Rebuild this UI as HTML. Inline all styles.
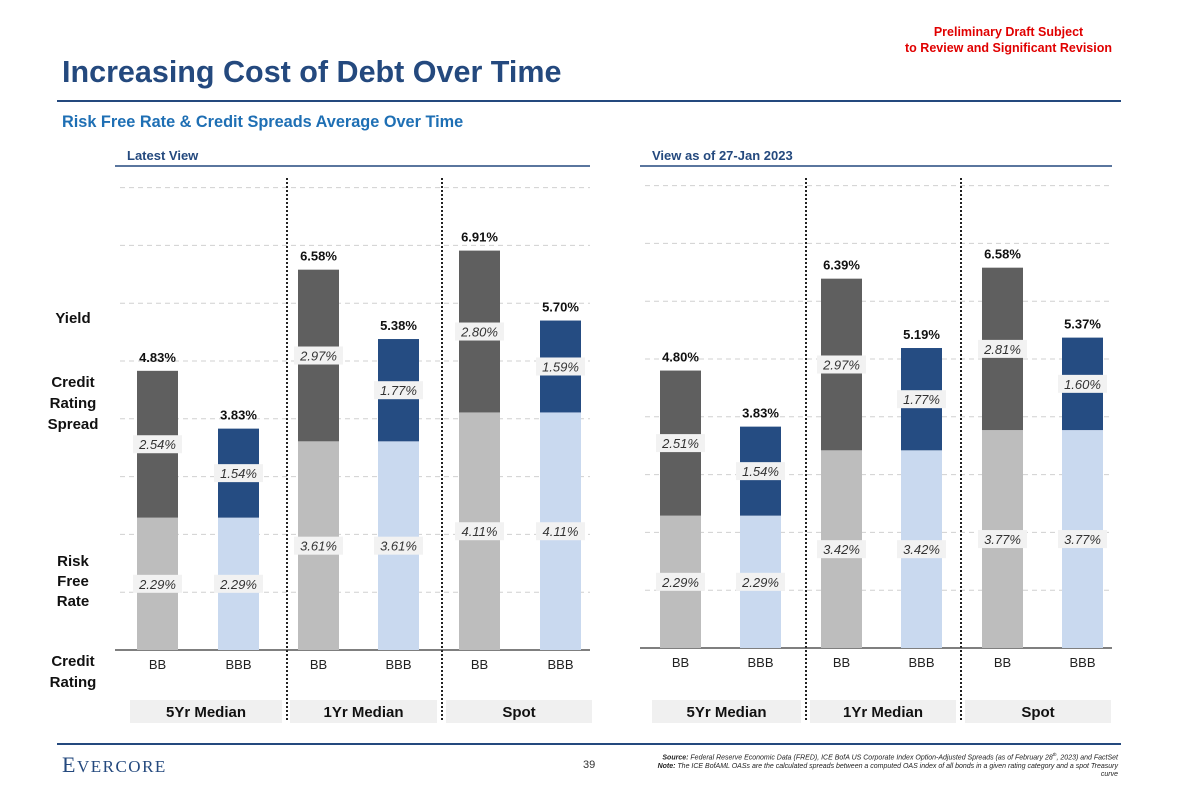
<!DOCTYPE html>
<html><head><meta charset="utf-8"><style>
body{margin:0;width:1180px;height:786px;background:#fff;font-family:"Liberation Sans",Arial,sans-serif;overflow:hidden;position:relative}
.a{position:absolute}
</style></head><body>
<div class="a" style="right:68px;top:24px;color:#e00000;font-weight:bold;font-size:12.5px;text-align:center;line-height:16px">Preliminary Draft Subject<br>to Review and Significant Revision</div>
<div class="a" style="left:62px;top:55px;color:#24497e;font-weight:bold;font-size:30.5px">Increasing Cost of Debt Over Time</div>
<div class="a" style="left:57px;top:100px;width:1064px;height:2px;background:#24497e"></div>
<div class="a" style="left:62px;top:113px;color:#1e6fb4;font-weight:bold;font-size:16.3px">Risk Free Rate &amp; Credit Spreads Average Over Time</div>
<svg class="a" style="left:0;top:0" width="1180" height="786" id="chart"></svg>
<div class="a" style="left:57px;top:743px;width:1064px;height:2px;background:#24497e"></div>
<div class="a" style="left:62px;top:752px;font-family:'Liberation Serif',serif;font-size:22px;color:#24497e;letter-spacing:1.5px">E<span style="font-size:17px">VERCORE</span></div>
<div class="a" style="left:583px;top:759px;font-size:11px;color:#333">39</div>
<div class="a" style="right:62px;top:751px;width:520px;text-align:right;font-size:7px;font-style:italic;color:#222;line-height:8.5px"><b>Source:</b> Federal Reserve Economic Data (FRED), ICE BofA US Corporate Index Option-Adjusted Spreads (as of February 28<sup style="font-size:4.5px">th</sup>, 2023) and FactSet<br><b>Note:</b> The ICE BofAML OASs are the calculated spreads between a computed OAS index of all bonds in a given rating category and a spot Treasury<br>curve</div>
<script>
const ratings=["BB","BBB","BB","BBB","BB","BBB"];
const groups=["5Yr Median","1Yr Median","Spot"];
const latestRfr=[2.29,2.29,3.61,3.61,4.11,4.11];
const latestSpread=[2.54,1.54,2.97,1.77,2.80,1.59];
const latestTotal=[4.83,3.83,6.58,5.38,6.91,5.70];
const janRfr=[2.29,2.29,3.42,3.42,3.77,3.77];
const janSpread=[2.51,1.54,2.97,1.77,2.81,1.60];
const janTotal=[4.80,3.83,6.39,5.19,6.58,5.37];
const gridTicks=[1,2,3,4,5,6,7,8];
const NS="http://www.w3.org/2000/svg";
const svg=document.getElementById('chart');
function mk(t,a,txt){const e=document.createElementNS(NS,t);for(const k in a)e.setAttribute(k,a[k]);if(txt!==undefined)e.textContent=txt;svg.appendChild(e);return e;}
function panel(p){
  const y=v=>p.base-v*57.8;
  const t=mk('text',{x:p.x0+12,y:160,'font-size':13,'font-weight':'bold',fill:'#24497e'},p.title);
  
  mk('line',{x1:p.x0,x2:p.x1,y1:166,y2:166,stroke:'#24497e','stroke-width':1.5});
  gridTicks.forEach(g=>{const l=mk('line',{x1:p.x0+5,x2:p.x1,y1:y(g),y2:y(g),stroke:'#d0d0d0','stroke-dasharray':'5,4'});
    });
  p.divs.forEach(dx=>mk('line',{x1:dx,x2:dx,y1:178,y2:720,stroke:'#222','stroke-width':2,'stroke-dasharray':'2,2'}));
  mk('line',{x1:p.x0,x2:p.x1,y1:p.base,y2:p.base,stroke:'#333','stroke-width':1.2});
  ratings.forEach((r,i)=>{
    const x=p.bx[i],w=41,bb=i%2==0;
    const rf=p.rfr[i],sp=p.spread[i],tot=p.total[i];
    const b1=mk('rect',{x:x,y:y(rf),width:w,height:y(0)-y(rf),fill:bb?'#bdbdbd':'#c9d9ef'});
    
    const b2=mk('rect',{x:x,y:y(rf+sp),width:w,height:y(rf)-y(rf+sp),fill:bb?'#5f5f5f':'#254c82'});
    
    const lab=(v,cy)=>{mk('rect',{x:x-4,y:cy-9,width:w+8,height:18,fill:'#f2f2f2'});
      const tt=mk('text',{x:x+w/2,y:cy+5,'text-anchor':'middle','font-size':13,'font-style':'italic',fill:'#333'},v.toFixed(2)+'%');
      };
    lab(rf,(y(0)+y(rf))/2);lab(sp,(y(rf)+y(rf+sp))/2);
    const tl=mk('text',{x:x+w/2,y:y(tot)-9,'text-anchor':'middle','font-size':13,'font-weight':'bold',fill:'#111'},tot.toFixed(2)+'%');
    
    const rl=mk('text',{x:x+w/2,y:p.base+19,'text-anchor':'middle','font-size':13,fill:'#222'},r);
    
  });
  groups.forEach((g,i)=>{const [a,b]=p.gb[i];
    mk('rect',{x:a,y:700,width:b-a,height:23,fill:'#f0f0f0'});
    const gl=mk('text',{x:(a+b)/2,y:717,'text-anchor':'middle','font-size':15,'font-weight':'bold',fill:'#111'},g);
    });
}
panel({key:'latest',title:'Latest View',x0:115,x1:590,base:650,bx:[137,218,298,378,459,540],divs:[287,442],
  rfr:latestRfr,spread:latestSpread,total:latestTotal,gb:[[130,282],[290,437],[446,592]]});
panel({key:'jan',title:'View as of 27-Jan 2023',x0:640,x1:1112,base:648,bx:[660,740,821,901,982,1062],divs:[806,961],
  rfr:janRfr,spread:janSpread,total:janTotal,gb:[[652,801],[810,956],[965,1111]]});
[["Yield",[323]],["Credit",[387]],["Rating",[408]],["Spread",[429]],["Risk",[566]],["Free",[586]],["Rate",[606]],["Credit",[666]],["Rating",[687]]].forEach(([t,[yy]])=>{
  const e=mk('text',{x:73,y:yy,'text-anchor':'middle','font-size':15,'font-weight':'bold',fill:'#111'},t);
  });
</script>
</body></html>
